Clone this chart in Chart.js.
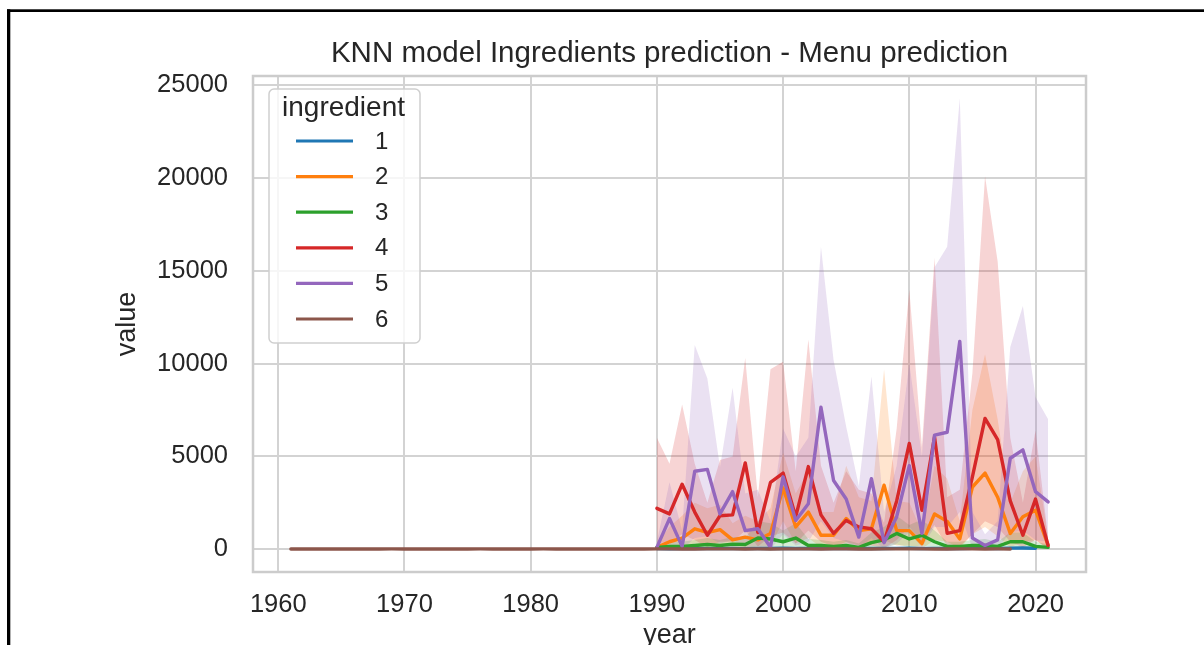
<!DOCTYPE html>
<html>
<head>
<meta charset="utf-8">
<script src="https://cdn.jsdelivr.net/npm/chart.js@4.4.1/dist/chart.umd.min.js"></script>
<style>
  html, body { margin: 0; padding: 0; background: #ffffff; overflow: hidden; }
  #wrap { position: absolute; left: 0; top: 0; width: 1204px; height: 660px; }
  canvas { display: block; filter: blur(0.7px); }
</style>
</head>
<body>
<div id="wrap"><canvas id="chart" width="1204" height="660"></canvas></div>
<script>
// ---- data -------------------------------------------------------------
const years = [1990, 1991, 1992, 1993, 1994, 1995, 1996, 1997, 1998, 1999,
  2000, 2001, 2002, 2003, 2004, 2005, 2006, 2007, 2008, 2009,
  2010, 2011, 2012, 2013, 2014, 2015, 2016, 2017, 2018, 2019,
  2020, 2021];
const yearsIng1 = [1990, 1991, 1992, 1993, 1994, 1995, 1996, 1997, 1998, 1999,
  2000, 2001, 2002, 2003, 2004, 2005, 2006, 2007, 2008, 2009,
  2010, 2011, 2012, 2013, 2014, 2015, 2016, 2017, 2018, 2019,
  2020];
const yearsIng6 = [1961, 1962, 1963, 1964, 1965, 1966, 1967, 1968, 1969, 1970,
  1971, 1972, 1973, 1974, 1975, 1976, 1977, 1978, 1979, 1980,
  1981, 1982, 1983, 1984, 1985, 1986, 1987, 1988, 1989, 1990,
  1991, 1992, 1993, 1994, 1995, 1996, 1997, 1998, 1999, 2000,
  2001, 2002, 2003, 2004, 2005, 2006, 2007, 2008, 2009, 2010,
  2011, 2012, 2013, 2014, 2015, 2016, 2017, 2018];

const ing1 = [30, 25, 40, 35, 30, 45, 38, 30, 42, 36,
  50, 40, 35, 45, 38, 30, 42, 36, 40, 45,
  50, 38, 44, 40, 35, 42, 48, 40, 55, 60,
  50];

const ing2 = [100, 400, 600, 1100, 900, 1050, 500, 650, 500, 850,
  3300, 1200, 2000, 750, 750, 1650, 1000, 1100, 3450, 1000,
  1000, 300, 1900, 1500, 550, 3350, 4100, 2800, 850, 1750,
  2100, 200];
const ing2Low = [0, 50, 100, 300, 200, 250, 50, 100, 80, 150,
  1500, 300, 600, 100, 100, 400, 200, 250, 500, 200,
  200, 20, 500, 400, 50, 800, 1200, 700, 100, 400,
  500, 0];
const ing2High = [300, 1200, 1800, 2500, 2200, 2400, 1400, 1800, 1500, 2200,
  5200, 3000, 4200, 2000, 2000, 4500, 2800, 2600, 9700, 2600,
  2500, 900, 4500, 3800, 1500, 7500, 10500, 7000, 2500, 4200,
  5000, 600];

const ing3 = [100, 150, 150, 200, 250, 200, 270, 250, 600, 550,
  400, 600, 200, 200, 150, 200, 100, 350, 500, 850,
  550, 750, 400, 150, 150, 200, 200, 150, 400, 400,
  150, 100];
const ing3Low = [20, 30, 30, 50, 60, 50, 70, 60, 150, 120,
  100, 150, 50, 50, 30, 50, 20, 80, 100, 250,
  120, 200, 100, 30, 30, 50, 50, 30, 100, 100,
  30, 20];
const ing3High = [250, 400, 400, 500, 600, 500, 650, 600, 1500, 1400,
  1000, 1400, 550, 500, 400, 500, 300, 900, 1200, 1800,
  1300, 1600, 1000, 400, 400, 500, 550, 400, 900, 900,
  400, 250];

const ing4 = [2200, 1900, 3500, 2000, 750, 1800, 1850, 4650, 900, 3600,
  4100, 1750, 4450, 1850, 850, 1550, 1200, 1100, 400, 2600,
  5700, 2100, 6050, 850, 1000, 3900, 7050, 5900, 2600, 750,
  2700, 200];
const ing4Low = [300, 400, 800, 500, 100, 400, 400, 1000, 150, 700,
  900, 300, 1000, 400, 150, 300, 200, 200, 50, 500,
  1200, 400, 1300, 150, 150, 800, 1500, 1200, 400, 100,
  500, 20];
const ing4High = [6000, 4600, 7800, 4600, 2500, 4800, 5000, 10300, 2800, 9700,
  10100, 4200, 11300, 4500, 2500, 4200, 3200, 3000, 1400, 6500,
  14000, 5500, 15700, 2800, 3200, 9500, 20100, 15500, 6000, 2500,
  6400, 600];

const ing5 = [100, 1650, 150, 4200, 4300, 1900, 3100, 1000, 1100, 100,
  3900, 1550, 2450, 7650, 3700, 2700, 650, 3800, 350, 1750,
  4500, 850, 6150, 6300, 11200, 600, 200, 500, 4900, 5350,
  3100, 2550];
const ing5Low = [0, 200, 0, 600, 700, 300, 500, 100, 150, 0,
  800, 200, 400, 1500, 600, 400, 50, 600, 20, 300,
  900, 100, 1200, 1200, 2000, 50, 0, 50, 900, 1000,
  500, 400];
const ing5High = [400, 3600, 1000, 11000, 9200, 4400, 8700, 3000, 3200, 1500,
  6500, 5000, 6000, 16300, 10200, 6600, 3400, 9300, 2000, 4500,
  10000, 5000, 15200, 16300, 24300, 2000, 800, 1500, 10900, 13100,
  8200, 7000];

const ing6 = [12, 10, 11, 13, 12, 10, 11, 12, 14, 13,
  12, 11, 10, 12, 13, 14, 12, 11, 12, 13,
  14, 12, 13, 11, 12, 10, 11, 13, 12, 14,
  15, 13, 12, 14, 16, 15, 13, 14, 12, 15,
  16, 14, 13, 15, 14, 12, 13, 15, 16, 14,
  15, 13, 12, 14, 15, 13, 14, 12];

const ingredientNames = ['1', '2', '3', '4', '5', '6'];
const xTicks = [1960, 1970, 1980, 1990, 2000, 2010, 2020];
const yTicks = [0, 5000, 10000, 15000, 20000, 25000];

// ---- styling ----------------------------------------------------------
const FONT = "'Liberation Sans', Arial, Helvetica, sans-serif";
const TEXT = '#262626';
const GRID = '#d3d3d3';
const palette = ['#1f77b4', '#ff7f0e', '#2ca02c', '#d62728', '#9467bd', '#8c564b'];

function withAlpha(hex, a) {
  const n = parseInt(hex.slice(1), 16);
  return `rgba(${(n >> 16) & 255},${(n >> 8) & 255},${n & 255},${a})`;
}
function points(xs, ys) {
  return xs.map((x, i) => ({ x: x, y: ys[i] }));
}

const series = [
  { name: ingredientNames[0], x: yearsIng1, mean: ing1 },
  { name: ingredientNames[1], x: years, mean: ing2, low: ing2Low, high: ing2High },
  { name: ingredientNames[2], x: years, mean: ing3, low: ing3Low, high: ing3High },
  { name: ingredientNames[3], x: years, mean: ing4, low: ing4Low, high: ing4High },
  { name: ingredientNames[4], x: years, mean: ing5, low: ing5Low, high: ing5High },
  { name: ingredientNames[5], x: yearsIng6, mean: ing6 }
];

// Bands sit under every line; lines stack in ingredient order.
// Chart.js paints lower "order" values last (on top).
const datasets = [];
series.forEach((s, i) => {
  if (s.high) {
    datasets.push({
      label: '', legendEntry: false,
      data: points(s.x, s.high),
      borderWidth: 0, pointRadius: 0, fill: false,
      order: 100 - i * 2
    });
    datasets.push({
      label: '', legendEntry: false,
      data: points(s.x, s.low),
      borderWidth: 0, pointRadius: 0,
      fill: '-1', backgroundColor: withAlpha(palette[i], 0.2),
      order: 100 - i * 2 - 1
    });
  }
  datasets.push({
    label: s.name, legendEntry: true,
    data: points(s.x, s.mean),
    borderColor: palette[i], backgroundColor: palette[i],
    borderWidth: 3.4, pointRadius: 0, fill: false, tension: 0,
    borderJoinStyle: 'round', borderCapStyle: 'round',
    order: 50 - i
  });
});

// Outer black frame, plot border and the in-axes legend.
const decorations = {
  id: 'decorations',
  afterDatasetsDraw(chart) {
    const { ctx, chartArea: a } = chart;
    ctx.save();
    ctx.strokeStyle = '#cccccc';
    ctx.lineWidth = 2.5;
    ctx.strokeRect(a.left, a.top, a.right - a.left, a.bottom - a.top);
    ctx.restore();
  },
  afterDraw(chart) {
    const ctx = chart.ctx;
    ctx.save();
    // page frame
    ctx.fillStyle = '#000000';
    ctx.fillRect(7, 9.3, 1197, 2.7);
    ctx.fillRect(7, 9.3, 3.3, 660);

    // legend box
    const bx = 269, by = 89, bw = 151, bh = 254, r = 5;
    ctx.beginPath();
    ctx.moveTo(bx + r, by);
    ctx.arcTo(bx + bw, by, bx + bw, by + bh, r);
    ctx.arcTo(bx + bw, by + bh, bx, by + bh, r);
    ctx.arcTo(bx, by + bh, bx, by, r);
    ctx.arcTo(bx, by, bx + bw, by, r);
    ctx.closePath();
    ctx.fillStyle = 'rgba(255,255,255,0.8)';
    ctx.fill();
    ctx.strokeStyle = '#cfcfcf';
    ctx.lineWidth = 1.5;
    ctx.stroke();

    ctx.fillStyle = TEXT;
    ctx.textBaseline = 'middle';
    ctx.textAlign = 'center';
    ctx.font = `28px ${FONT}`;
    ctx.fillText('ingredient', bx + bw / 2 - 1, 108);

    const entries = chart.data.datasets.filter(d => d.legendEntry);
    ctx.font = `24px ${FONT}`;
    ctx.textAlign = 'left';
    entries.forEach((d, i) => {
      const y = 141 + i * 35.6;
      ctx.strokeStyle = d.borderColor;
      ctx.lineWidth = 3.2;
      ctx.lineCap = 'butt';
      ctx.beginPath();
      ctx.moveTo(296, y);
      ctx.lineTo(353, y);
      ctx.stroke();
      ctx.fillStyle = TEXT;
      ctx.fillText(d.label, 375, y + 1);
    });
    ctx.restore();
  }
};

new Chart(document.getElementById('chart'), {
  type: 'line',
  data: { datasets: datasets },
  options: {
    responsive: false,
    animation: false,
    devicePixelRatio: 1,
    layout: { padding: { left: 0, right: 118, top: 0, bottom: 0 } },
    plugins: {
      legend: { display: false },
      tooltip: { enabled: false },
      filler: { propagate: false },
      title: {
        display: true,
        fullSize: false,
        text: 'KNN model Ingredients prediction - Menu prediction',
        color: TEXT,
        font: { family: FONT, size: 29.5, weight: 'normal' },
        padding: { top: 36.3, bottom: 4.3 }
      }
    },
    scales: {
      x: {
        type: 'linear',
        min: 1958,
        max: 2024,
        afterFit(scale) { scale.height = 88; },
        afterBuildTicks(scale) { scale.ticks = xTicks.map(v => ({ value: v })); },
        grid: { color: GRID, lineWidth: 2, drawTicks: false },
        border: { display: false },
        ticks: {
          color: TEXT, padding: 18,
          font: { family: FONT, size: 25.5 },
          callback: v => String(v)
        },
        title: {
          display: true, text: 'year', color: TEXT,
          font: { family: FONT, size: 27 },
          padding: { top: 0, bottom: 8 }
        }
      },
      y: {
        type: 'linear',
        min: -1230,
        max: 25500,
        afterFit(scale) { scale.width = 253; },
        afterBuildTicks(scale) { scale.ticks = yTicks.map(v => ({ value: v })); },
        grid: { color: GRID, lineWidth: 2, drawTicks: false },
        border: { display: false },
        ticks: {
          color: TEXT, padding: 25,
          font: { family: FONT, size: 25.5 },
          callback: v => String(v)
        },
        title: {
          display: true, text: 'value', color: TEXT,
          font: { family: FONT, size: 27 },
          padding: { top: 111.8, bottom: 0 }
        }
      }
    }
  },
  plugins: [decorations]
});
</script>
</body>
</html>
